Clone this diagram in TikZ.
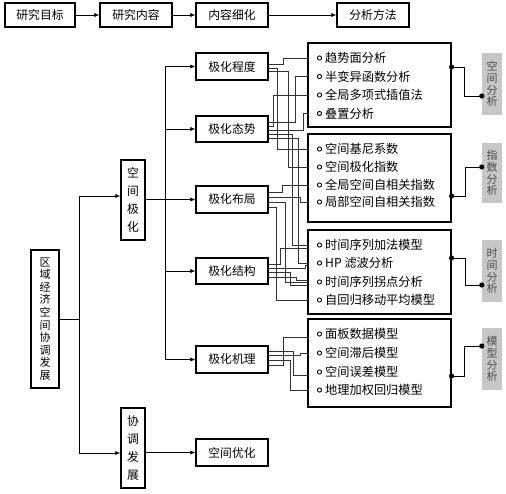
\documentclass[tikz,border=0pt]{standalone}
\usepackage{fontspec}
\newfontfamily\cjk{Noto Sans CJK SC}
\usetikzlibrary{arrows.meta}
\begin{document}
\begin{tikzpicture}[x=1pt,y=-1pt,
  box/.style={draw=black,line width=1.2pt,inner sep=0pt,font=\cjk\fontsize{11.8}{13}\selectfont,minimum width=72pt,minimum height=27pt},
  vbox/.style={draw=black,line width=1.2pt,inner sep=0pt,align=center,font=\cjk\fontsize{11.8}{18.3}\selectfont,minimum width=24pt,minimum height=80pt},
  rbox/.style={draw=black,line width=1.2pt,inner sep=0pt,minimum width=143pt},
  gbox/.style={fill=black!22,draw=none,inner sep=0pt,align=center,text=black!70,font=\cjk\fontsize{11}{11.8}\selectfont,minimum width=20pt,minimum height=62pt},
  item/.style={anchor=west,inner sep=0pt,font=\cjk\fontsize{12.2}{13}\selectfont},
  arr/.style={line width=0.6pt,-{Latex[length=5pt,width=4pt]}},
  conn/.style={line width=0.6pt},
  wire/.style={line width=0.55pt,draw=black!80},
  dot/.style={fill=black}
]
\useasboundingbox (0,0) rectangle (506,493);
% top row
\node[box,minimum width=70pt,minimum height=24pt] (t1) at (40,15) {研究目标};
\node[box,minimum height=24pt] (t2) at (136,15) {研究内容};
\node[box,minimum height=24pt] (t3) at (232,15) {内容细化};
\node[box,minimum height=24pt] (t4) at (373,15) {分析方法};
\draw[arr] (t1) -- (t2);
\draw[arr] (t2) -- (t3);
\draw[arr] (t3) -- (t4);
% main
\node[vbox,minimum width=28pt,minimum height=138pt,font=\cjk\fontsize{11}{12.6}\selectfont] (m) at (45,319) {区\\域\\经\\济\\空\\间\\协\\调\\发\\展};
\node[vbox] (sp) at (133,200) {空\\间\\极\\化};
\node[vbox] (xt) at (133,448) {协\\调\\发\\展};
\coordinate (j1) at (79,319);
\draw[conn] (m.east) -- (j1);
\draw[arr] (j1) |- ([yshift=4pt]sp.west);
\draw[arr] (j1) |- ([yshift=-5pt]xt.west);
% level 3
\node[box] (cd) at (232,66.5) {极化程度};
\node[box,minimum height=26pt] (ts) at (232,129) {极化态势};
\node[box] (bj) at (232,199.5) {极化布局};
\node[box,minimum height=26pt] (jg) at (232,271) {极化结构};
\node[box] (jl) at (232,359.5) {极化机理};
\node[box] (yh) at (232,452.5) {空间优化};
\coordinate (j2) at (165.7,199.5);
\draw[conn] (sp.east |- j2) -- (j2);
\draw[arr] (j2) |- (cd.west);
\draw[arr] (j2) |- (ts.west);
\draw[arr] (j2) -- (bj.west);
\draw[arr] (j2) |- (jg.west);
\draw[arr] (j2) |- (jl.west);
\draw[arr] (xt.east |- yh.west) -- (yh.west);
% right boxes
\node[rbox,minimum height=84pt] (b1) at (379.5,85) {};
\node[rbox,minimum height=88pt] (b2) at (379.5,178) {};
\node[rbox,minimum height=84pt] (b3) at (379.5,272) {};
\node[rbox,minimum height=88pt] (b4) at (379.5,363) {};
% items
\foreach \y/\t/\n in {58/趋势面分析/b1i1, 76.5/半变异函数分析/b1i2, 95/全局多项式插值法/b1i3, 113.5/叠置分析/b1i4,
  149/空间基尼系数/b2i1, 167/空间极化指数/b2i2, 185/全局空间自相关指数/b2i3, 202/局部空间自相关指数/b2i4,
  245/时间序列加法模型/b3i1, 263/HP 滤波分析/b3i2, 282/时间序列拐点分析/b3i3, 300/自回归移动平均模型/b3i4,
  334/面板数据模型/b4i1, 353/空间滞后模型/b4i2, 372/空间误差模型/b4i3, 390/地理加权回归模型/b4i4}{
  \draw[line width=0.9pt] (319.5,\y) circle (2.1);
  \node[item] at (325,\y) {\t};
  \coordinate (\n) at (308,\y);
}
% gray boxes
\node[gbox] (g1) at (492,84) {空\\间\\分\\析};
\node[gbox,minimum height=60pt] (g2) at (492,173) {指\\数\\分\\析};
\node[gbox] (g3) at (492,271) {时\\间\\分\\析};
\node[gbox] (g4) at (492,359) {模\\型\\分\\析};
% dot connectors
\draw[conn] ([yshift=18pt]b1.east) -- ++(13,0) |- ([yshift=-12pt]g1.west);
\fill[dot] ([yshift=18pt]b1.east) circle (2.6);
\fill[dot] ([yshift=-12pt]g1.west) circle (2.6);
\draw[conn] ([yshift=-18pt]b2.east) -- ++(14,0) |- ([yshift=6pt]g2.west);
\fill[dot] ([yshift=-18pt]b2.east) circle (2.6);
\fill[dot] ([yshift=6pt]g2.west) circle (2.6);
\draw[conn] ([yshift=14pt]b3.east) -- ++(14,0) |- ([yshift=-14pt]g3.west);
\fill[dot] ([yshift=14pt]b3.east) circle (2.6);
\fill[dot] ([yshift=-14pt]g3.west) circle (2.6);
\draw[conn] ([yshift=-13pt]b4.east) -- ++(13,0) |- ([yshift=13pt]g4.west);
\fill[dot] ([yshift=-13pt]b4.east) circle (2.6);
\fill[dot] ([yshift=13pt]g4.west) circle (2.6);
% wires: 极化程度
\draw[wire] ([yshift=2.5pt]cd.east) -- ++(15,0) |- (b1i1);
\draw[wire] ([yshift=-1.5pt]cd.east) -- ++(9,0) |- (b2i1);
\draw[wire] ([yshift=-4.5pt]cd.east) -- ++(20,0) |- (b2i2);
% 极化态势
\draw[wire] ([yshift=7pt]ts.east) -- ++(27,0) |- (b1i2);
\draw[wire] ([yshift=3pt]ts.east) -- ++(5,0) |- (b1i3);
\draw[wire] ([yshift=-1pt]ts.east) -- ++(35,0) |- (b1i4);
\draw[wire] ([yshift=-5pt]ts.east) -- ++(24,0) |- (b3i1);
\draw[wire] ([yshift=-9pt]ts.east) -- ++(30,0) |- (b3i2);
% 极化布局
\draw[wire] ([yshift=7.5pt]bj.east) -- ++(14,0) |- (b2i3);
\draw[wire] ([yshift=2.5pt]bj.east) -- ++(32,0) |- (b2i4);
\draw[wire] ([yshift=-2.5pt]bj.east) -- ++(17,0) |- (b3i3);
\draw[wire] ([yshift=-7.5pt]bj.east) -- ++(8,0) |- (b3i4);
% 极化结构
\draw[wire] ([yshift=7pt]jg.east) -- ++(12,0) |- ([yshift=-3pt]b3i1);
\draw[wire] ([yshift=3pt]jg.east) -- ++(37,0) |- ([yshift=-2pt]b3i2);
\draw[wire] ([yshift=-1pt]jg.east) -- ++(22,0) |- ([yshift=-3pt]b3i3);
\draw[wire] ([yshift=-6pt]jg.east) -- ++(28,0) |- ([yshift=2pt]b3i3);
% 极化机理
\draw[wire] ([yshift=-5.5pt]jl.east) -- ++(15,0) |- ([yshift=-3pt]b4i1);
\draw[wire] ([yshift=8.5pt]jl.east) -- ++(25,0) |- ([yshift=-3pt]b4i3);
\draw[wire] ([yshift=4.5pt]jl.east) -- ++(32,0) |- (b4i2);
\draw[wire] ([yshift=-0.5pt]jl.east) -- ++(22,0) |- (b4i4);
\end{tikzpicture}
\end{document}
